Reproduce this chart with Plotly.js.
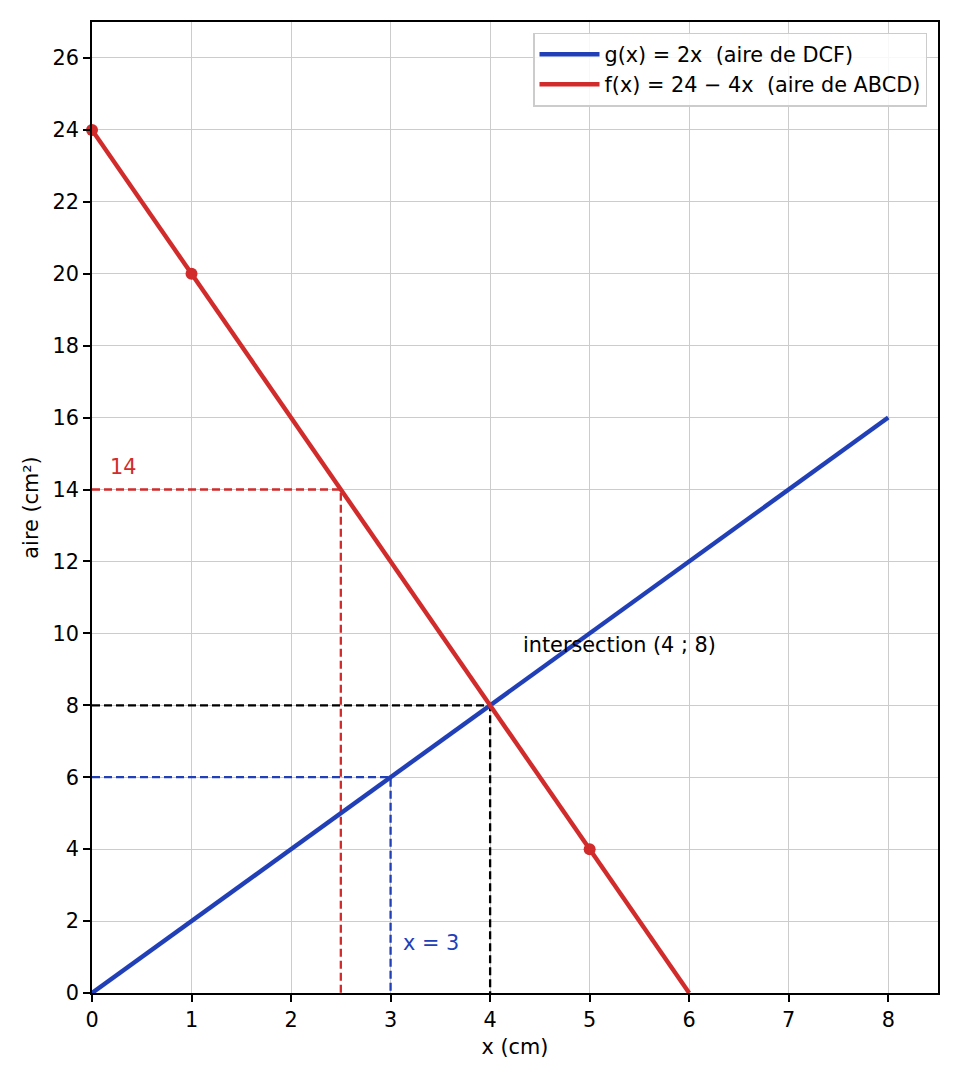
<!DOCTYPE html>
<html>
<head>
<meta charset="utf-8">
<script src="https://cdn.plot.ly/plotly-3.0.1.min.js"></script>
<style>
  body { margin: 0; background: #fff; }
  #chart { width: 960px; height: 1080px; }
</style>
</head>
<body>
<div id="chart"></div>
<script>
// Lines
const gX = [0, 8];
const gY = [0, 16];
const fX = [0, 6];
const fY = [24, 0];
// Marked points on f
const fPtsX = [0, 1, 5];
const fPtsY = [24, 20, 4];

// Dashed guides
const redGuideX = [0, 2.5, 2.5];
const redGuideY = [14, 14, 0];
const blueGuideX = [0, 3, 3];
const blueGuideY = [6, 6, 0];
const blackGuideX = [0, 4, 4];
const blackGuideY = [8, 8, 0];

const xTicks = [0, 1, 2, 3, 4, 5, 6, 7, 8];
const yTicks = [0, 2, 4, 6, 8, 10, 12, 14, 16, 18, 20, 22, 24, 26];

const BLUE = '#2140b8';
const RED = '#d12b2b';
const FS = 20.8;
const NB = '\u00a0';

var guide = (x, y, color) => ({
  x: x, y: y,
  mode: 'lines',
  line: { color: color, width: 2.3, dash: '8px,4px' },
  showlegend: false,
  hoverinfo: 'skip',
});

var traces = [
  guide(redGuideX, redGuideY, RED),
  guide(blueGuideX, blueGuideY, BLUE),
  guide(blackGuideX, blackGuideY, '#000000'),
  {
    x: gX, y: gY,
    name: 'g(x) = 2x' + NB + NB + '(aire de DCF)',
    mode: 'lines',
    line: { color: BLUE, width: 4.4 },
  },
  {
    x: fX, y: fY,
    name: 'f(x) = 24 − 4x' + NB + NB + '(aire de ABCD)',
    mode: 'lines',
    line: { color: RED, width: 4.4 },
  },
  {
    x: fPtsX, y: fPtsY,
    mode: 'markers',
    marker: { color: RED, size: 12 },
    showlegend: false,
    cliponaxis: false,
  },
];

var axisStyle = {
  showline: true,
  mirror: true,
  linecolor: '#000',
  linewidth: 1.7,
  ticks: 'outside',
  ticklen: 7,
  tickwidth: 1.7,
  tickcolor: '#000',
  showgrid: true,
  gridcolor: '#cccccc',
  gridwidth: 1,
  zeroline: false,
  tickfont: { size: FS, color: '#000' },
};

var layout = {
  width: 960,
  height: 1080,
  margin: { l: 92, r: 22, t: 22, b: 87 },
  paper_bgcolor: '#fff',
  plot_bgcolor: '#fff',
  font: { family: 'DejaVu Sans, sans-serif', size: FS, color: '#000' },
  xaxis: Object.assign({}, axisStyle, {
    range: [0, 8.5],
    tickvals: xTicks,
    title: { text: 'x (cm)', font: { size: FS }, standoff: 9 },
  }),
  yaxis: Object.assign({}, axisStyle, {
    range: [0, 27],
    tickvals: yTicks,
    title: { text: 'aire (cm²)', font: { size: FS }, standoff: 8 },
  }),
  legend: {
    x: 0.987, y: 0.989,
    xanchor: 'right', yanchor: 'top',
    bgcolor: 'rgba(255,255,255,0.85)',
    bordercolor: '#cccccc',
    borderwidth: 1.5,
    font: { size: FS },
    itemwidth: 60,
    tracegroupgap: 0,
  },
  annotations: [
    { x: 0.16, y: 14.62, text: '14', showarrow: false, xanchor: 'left', yanchor: 'middle',
      font: { color: RED, size: FS } },
    { x: 3.1, y: 1.39, text: 'x = 3', showarrow: false, xanchor: 'left', yanchor: 'middle',
      font: { color: BLUE, size: FS } },
    { x: 4.31, y: 9.69, text: 'intersection (4 ; 8)', showarrow: false, xanchor: 'left', yanchor: 'middle',
      font: { color: '#000', size: FS } },
  ],
};

var config = { displayModeBar: false, responsive: false };

Plotly.newPlot('chart', traces, layout, config);
</script>
</body>
</html>
